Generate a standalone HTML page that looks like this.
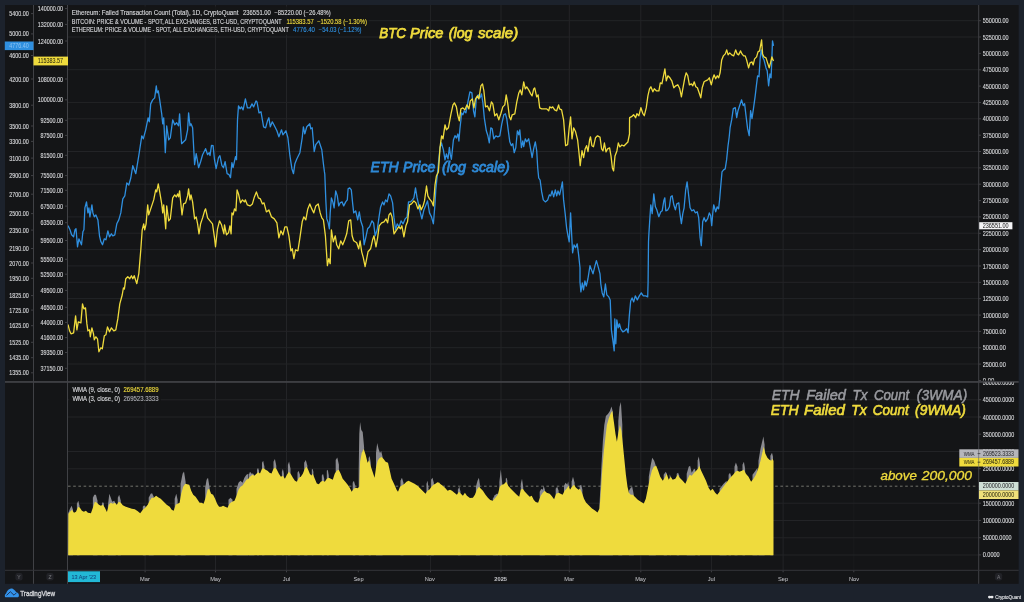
<!DOCTYPE html><html><head><meta charset="utf-8"><title>chart</title><style>html,body{margin:0;padding:0;background:#1c222c;width:1024px;height:602px;overflow:hidden}</style></head><body><svg width="1024" height="602" viewBox="0 0 1024 602" style="position:absolute;left:0;top:0;will-change:transform;font-family:'Liberation Sans',sans-serif">
<rect width="1024" height="602" fill="#1c222c"/>
<rect x="5" y="5" width="1013.7" height="578.8" fill="#141517"/>
<line x1="145.1" y1="5" x2="145.1" y2="570.3" stroke="#232427" stroke-width="1" opacity="1"/>
<line x1="145.1" y1="570.3" x2="145.1" y2="572.3" stroke="#404145" stroke-width="1"/>
<line x1="215.5" y1="5" x2="215.5" y2="570.3" stroke="#232427" stroke-width="1" opacity="1"/>
<line x1="215.5" y1="570.3" x2="215.5" y2="572.3" stroke="#404145" stroke-width="1"/>
<line x1="286.5" y1="5" x2="286.5" y2="570.3" stroke="#232427" stroke-width="1" opacity="1"/>
<line x1="286.5" y1="570.3" x2="286.5" y2="572.3" stroke="#404145" stroke-width="1"/>
<line x1="358.3" y1="5" x2="358.3" y2="570.3" stroke="#232427" stroke-width="1" opacity="0"/>
<line x1="358.3" y1="570.3" x2="358.3" y2="572.3" stroke="#404145" stroke-width="1"/>
<line x1="430.4" y1="5" x2="430.4" y2="570.3" stroke="#232427" stroke-width="1" opacity="1"/>
<line x1="430.4" y1="570.3" x2="430.4" y2="572.3" stroke="#404145" stroke-width="1"/>
<line x1="501" y1="5" x2="501" y2="570.3" stroke="#232427" stroke-width="1" opacity="1"/>
<line x1="501" y1="570.3" x2="501" y2="572.3" stroke="#404145" stroke-width="1"/>
<line x1="569.3" y1="5" x2="569.3" y2="570.3" stroke="#232427" stroke-width="1" opacity="1"/>
<line x1="569.3" y1="570.3" x2="569.3" y2="572.3" stroke="#404145" stroke-width="1"/>
<line x1="640.8" y1="5" x2="640.8" y2="570.3" stroke="#232427" stroke-width="1" opacity="1"/>
<line x1="640.8" y1="570.3" x2="640.8" y2="572.3" stroke="#404145" stroke-width="1"/>
<line x1="711.4" y1="5" x2="711.4" y2="570.3" stroke="#232427" stroke-width="1" opacity="1"/>
<line x1="711.4" y1="570.3" x2="711.4" y2="572.3" stroke="#404145" stroke-width="1"/>
<line x1="783.1" y1="5" x2="783.1" y2="570.3" stroke="#232427" stroke-width="1" opacity="1"/>
<line x1="783.1" y1="570.3" x2="783.1" y2="572.3" stroke="#404145" stroke-width="1"/>
<line x1="853.8" y1="5" x2="853.8" y2="570.3" stroke="#232427" stroke-width="1" opacity="0.35"/>
<line x1="853.8" y1="570.3" x2="853.8" y2="572.3" stroke="#404145" stroke-width="1"/>
<line x1="67.5" y1="364.0" x2="978.7" y2="364.0" stroke="#232427" stroke-width="1"/>
<line x1="67.5" y1="347.7" x2="978.7" y2="347.7" stroke="#232427" stroke-width="1"/>
<line x1="67.5" y1="331.3" x2="978.7" y2="331.3" stroke="#232427" stroke-width="1"/>
<line x1="67.5" y1="315.0" x2="978.7" y2="315.0" stroke="#232427" stroke-width="1"/>
<line x1="67.5" y1="298.6" x2="978.7" y2="298.6" stroke="#232427" stroke-width="1"/>
<line x1="67.5" y1="282.3" x2="978.7" y2="282.3" stroke="#232427" stroke-width="1"/>
<line x1="67.5" y1="265.9" x2="978.7" y2="265.9" stroke="#232427" stroke-width="1"/>
<line x1="67.5" y1="249.6" x2="978.7" y2="249.6" stroke="#232427" stroke-width="1"/>
<line x1="67.5" y1="233.2" x2="978.7" y2="233.2" stroke="#232427" stroke-width="1"/>
<line x1="67.5" y1="216.9" x2="978.7" y2="216.9" stroke="#232427" stroke-width="1"/>
<line x1="67.5" y1="184.2" x2="978.7" y2="184.2" stroke="#232427" stroke-width="1"/>
<line x1="67.5" y1="167.8" x2="978.7" y2="167.8" stroke="#232427" stroke-width="1"/>
<line x1="67.5" y1="151.5" x2="978.7" y2="151.5" stroke="#232427" stroke-width="1"/>
<line x1="67.5" y1="118.8" x2="978.7" y2="118.8" stroke="#232427" stroke-width="1"/>
<line x1="67.5" y1="102.4" x2="978.7" y2="102.4" stroke="#232427" stroke-width="1"/>
<line x1="67.5" y1="69.7" x2="978.7" y2="69.7" stroke="#232427" stroke-width="1"/>
<line x1="67.5" y1="37.0" x2="978.7" y2="37.0" stroke="#232427" stroke-width="1"/>
<line x1="67.5" y1="20.7" x2="978.7" y2="20.7" stroke="#232427" stroke-width="1"/>
<line x1="67.5" y1="537.8" x2="978.7" y2="537.8" stroke="#232427" stroke-width="1"/>
<line x1="67.5" y1="520.5" x2="978.7" y2="520.5" stroke="#232427" stroke-width="1"/>
<line x1="67.5" y1="503.2" x2="978.7" y2="503.2" stroke="#232427" stroke-width="1"/>
<line x1="67.5" y1="468.8" x2="978.7" y2="468.8" stroke="#232427" stroke-width="1"/>
<line x1="67.5" y1="451.5" x2="978.7" y2="451.5" stroke="#232427" stroke-width="1"/>
<line x1="67.5" y1="417.0" x2="978.7" y2="417.0" stroke="#232427" stroke-width="1"/>
<line x1="67.5" y1="399.8" x2="978.7" y2="399.8" stroke="#232427" stroke-width="1"/>
<line x1="67.5" y1="555" x2="978.7" y2="555" stroke="#232427" stroke-width="1"/>
<line x1="68" y1="486.2" x2="978.7" y2="486.2" stroke="#9a9a90" stroke-width="1" stroke-dasharray="2.6 2.6" opacity="0.7"/>
<g clip-path="url(#lp)">
<clipPath id="lp"><rect x="68" y="382.5" width="706" height="173.10000000000002"/></clipPath>
<polygon points="68.4,555.6 68.4,512.7 70.0,508.7 71.6,505.7 73.0,509.7 73.0,555.6" fill="#8b8b90"/>
<polygon points="76.9,555.6 76.9,503.7 78.3,500.7 79.5,505.7 79.5,555.6" fill="#8b8b90"/>
<polygon points="92.9,555.6 92.9,497.7 94.3,494.7 95.9,494.7 97.5,500.7 97.5,555.6" fill="#8b8b90"/>
<polygon points="101.9,555.6 101.9,503.7 102.9,502.1 103.9,503.7 103.9,555.6" fill="#8b8b90"/>
<polygon points="107.9,555.6 107.9,505.7 109.3,493.7 110.8,497.7 112.2,501.7 114.2,500.7 115.8,503.7 115.8,555.6" fill="#8b8b90"/>
<polygon points="117.8,555.6 117.8,497.7 119.2,494.7 120.8,500.7 120.8,555.6" fill="#8b8b90"/>
<polygon points="142.8,555.6 142.8,506.7 144.1,505.3 145.7,506.7 145.7,555.6" fill="#8b8b90"/>
<polygon points="148.7,555.6 148.7,497.7 150.7,493.7 152.1,493.3 153.7,496.7 153.7,555.6" fill="#8b8b90"/>
<polygon points="174.7,555.6 174.7,498.7 176.3,493.7 177.6,499.7 177.6,555.6" fill="#8b8b90"/>
<polygon points="180.6,555.6 180.6,483.8 182.6,473.8 184.0,471.4 185.6,481.8 185.6,555.6" fill="#8b8b90"/>
<polygon points="205.2,555.6 205.2,487.8 206.6,479.8 208.0,477.8 209.6,487.8 209.6,555.6" fill="#8b8b90"/>
<polygon points="228.5,555.6 228.5,499.7 230.5,497.7 232.5,499.7 232.5,555.6" fill="#8b8b90"/>
<polygon points="236.5,555.6 236.5,488.8 238.5,482.8 240.5,480.8 242.5,482.8 244.4,477.8 246.4,474.8 248.4,473.8 248.4,555.6" fill="#8b8b90"/>
<polygon points="249.0,555.6 249.0,474.2 250.0,471.8 251.6,473.8 253.0,473.4 254.4,475.4 254.4,555.6" fill="#8b8b90"/>
<polygon points="257.0,555.6 257.0,469.8 258.0,467.8 259.0,470.8 259.0,555.6" fill="#8b8b90"/>
<polygon points="262.0,555.6 262.0,462.8 263.2,460.8 264.4,466.8 264.4,555.6" fill="#8b8b90"/>
<polygon points="273.5,555.6 273.5,461.8 274.9,458.9 276.3,465.8 276.3,555.6" fill="#8b8b90"/>
<polygon points="281.9,555.6 281.9,471.8 282.9,468.8 283.9,473.8 283.9,555.6" fill="#8b8b90"/>
<polygon points="287.9,555.6 287.9,464.8 289.1,461.4 290.5,468.8 290.5,555.6" fill="#8b8b90"/>
<polygon points="297.5,555.6 297.5,472.8 298.5,470.8 299.9,474.8 299.9,555.6" fill="#8b8b90"/>
<polygon points="304.2,555.6 304.2,462.8 305.8,459.9 307.4,465.8 307.4,555.6" fill="#8b8b90"/>
<polygon points="311.8,555.6 311.8,469.8 312.6,468.8 313.4,471.8 313.4,555.6" fill="#8b8b90"/>
<polygon points="321.8,555.6 321.8,475.8 323.0,473.8 324.2,478.8 324.2,555.6" fill="#8b8b90"/>
<polygon points="326.8,555.6 326.8,470.8 327.8,469.8 328.8,475.8 328.8,555.6" fill="#8b8b90"/>
<polygon points="335.7,555.6 335.7,459.9 337.3,457.5 338.9,464.8 338.9,555.6" fill="#8b8b90"/>
<polygon points="352.7,555.6 352.7,482.8 353.9,480.8 355.3,485.8 355.3,555.6" fill="#8b8b90"/>
<polygon points="358.7,555.6 358.7,469.8 359.3,433.9 360.1,422.0 361.3,429.9 362.7,431.9 364.1,446.9 364.1,555.6" fill="#8b8b90"/>
<polygon points="368.6,555.6 368.6,457.9 369.6,455.9 370.8,462.8 370.8,555.6" fill="#8b8b90"/>
<polygon points="376.0,555.6 376.0,452.9 377.2,442.9 378.6,448.9 380.0,452.9 381.2,450.9 382.6,456.9 382.6,555.6" fill="#8b8b90"/>
<polygon points="400.5,555.6 400.5,480.8 401.9,477.8 403.5,482.8 403.5,555.6" fill="#8b8b90"/>
<polygon points="426.5,555.6 426.5,483.8 427.5,480.8 428.5,488.8 428.5,555.6" fill="#8b8b90"/>
<polygon points="431.1,555.6 431.1,479.8 432.5,477.8 433.8,482.8 433.8,555.6" fill="#8b8b90"/>
<polygon points="457.9,555.6 457.9,489.8 459.3,486.8 460.5,491.8 460.5,555.6" fill="#8b8b90"/>
<polygon points="475.9,555.6 475.9,486.8 477.5,480.8 478.9,477.8 479.9,484.8 479.9,555.6" fill="#8b8b90"/>
<polygon points="492.8,555.6 492.8,498.7 494.8,495.3 496.8,493.7 498.2,493.7 498.2,555.6" fill="#8b8b90"/>
<polygon points="499.4,555.6 499.4,481.8 500.8,469.4 502.2,482.8 502.2,555.6" fill="#8b8b90"/>
<polygon points="505.8,555.6 505.8,478.8 506.6,477.8 507.4,480.8 507.4,555.6" fill="#8b8b90"/>
<polygon points="520.8,555.6 520.8,483.8 522.0,478.8 523.2,486.8 523.2,555.6" fill="#8b8b90"/>
<polygon points="539.7,555.6 539.7,491.8 541.3,488.8 542.7,489.8 543.7,485.8 544.9,489.8 544.9,555.6" fill="#8b8b90"/>
<polygon points="555.7,555.6 555.7,488.8 557.2,486.8 558.6,490.8 558.6,555.6" fill="#8b8b90"/>
<polygon points="564.0,555.6 564.0,485.8 565.6,482.8 567.2,484.8 568.2,481.4 569.2,488.8 569.2,555.6" fill="#8b8b90"/>
<polygon points="571.6,555.6 571.6,481.8 573.0,476.8 574.6,482.8 574.6,555.6" fill="#8b8b90"/>
<polygon points="579.6,555.6 579.6,485.8 581.2,484.8 582.4,489.8 582.4,555.6" fill="#8b8b90"/>
<polygon points="599.5,555.6 599.5,504.6 599.9,496.7 601.5,464.8 602.9,440.8 604.3,424.9 605.9,415.9 607.9,413.9 609.9,410.9 611.5,406.5 612.9,411.9 612.9,555.6" fill="#8b8b90"/>
<polygon points="618.3,555.6 618.3,420.9 619.5,406.9 620.9,401.9 622.3,424.9 622.3,555.6" fill="#8b8b90"/>
<polygon points="628.9,555.6 628.9,490.7 630.8,487.7 632.2,486.7 633.8,494.7 633.8,555.6" fill="#8b8b90"/>
<polygon points="648.8,555.6 648.8,476.7 650.8,464.8 652.2,457.8 654.2,460.8 655.8,465.8 655.8,555.6" fill="#8b8b90"/>
<polygon points="663.7,555.6 663.7,474.7 665.7,471.7 666.9,473.7 666.9,555.6" fill="#8b8b90"/>
<polygon points="669.7,555.6 669.7,474.3 670.7,476.7 670.7,555.6" fill="#8b8b90"/>
<polygon points="676.7,555.6 676.7,473.7 678.1,472.7 679.3,475.7 679.3,555.6" fill="#8b8b90"/>
<polygon points="686.7,555.6 686.7,473.7 688.7,466.8 690.1,465.8 691.7,472.7 694.1,468.7 695.3,469.7 695.3,555.6" fill="#8b8b90"/>
<polygon points="697.6,555.6 697.6,460.8 698.8,456.4 700.0,464.8 700.0,555.6" fill="#8b8b90"/>
<polygon points="719.6,555.6 719.6,488.7 723.6,483.7 726.6,480.7 726.6,555.6" fill="#8b8b90"/>
<polygon points="728.6,555.6 728.6,474.7 730.0,472.7 731.1,475.7 731.1,555.6" fill="#8b8b90"/>
<polygon points="734.5,555.6 734.5,466.8 735.9,462.4 737.5,466.8 737.5,555.6" fill="#8b8b90"/>
<polygon points="742.5,555.6 742.5,464.8 743.9,461.8 745.1,468.7 745.1,555.6" fill="#8b8b90"/>
<polygon points="752.5,555.6 752.5,474.7 755.5,470.7 757.5,467.8 757.5,555.6" fill="#8b8b90"/>
<polygon points="758.5,555.6 758.5,460.8 760.5,448.8 761.9,442.8 763.4,436.4 764.6,444.8 764.6,555.6" fill="#8b8b90"/>
<polygon points="770.4,555.6 770.4,455.8 772.0,452.8 773.0,456.8 773.0,555.6" fill="#8b8b90"/>
<polygon points="68.2,555.6 68.4,513.7 70.0,511.7 72.0,509.7 74.0,512.7 76.0,511.7 78.3,506.7 79.9,507.7 81.9,510.7 83.9,511.7 85.9,510.7 87.9,512.7 90.9,513.3 92.9,507.7 94.9,501.7 96.9,502.7 98.9,504.7 100.9,505.7 102.9,504.7 104.9,507.7 106.9,512.1 108.9,504.7 110.8,502.7 112.8,503.7 114.8,502.7 116.8,504.7 118.8,501.7 120.8,502.7 122.8,505.3 125.8,506.7 128.8,507.7 131.8,508.7 134.8,509.3 137.8,511.3 140.2,513.3 142.8,509.7 145.3,507.7 147.7,504.7 149.7,500.7 151.7,497.7 153.7,497.7 156.1,495.7 158.1,497.3 160.7,498.7 163.7,501.7 166.7,504.7 169.7,506.7 171.7,509.7 173.7,510.7 175.7,504.7 177.6,503.7 179.6,502.7 181.2,493.7 183.2,486.8 185.2,483.8 187.2,484.2 189.2,484.8 191.2,490.8 193.2,494.7 195.6,496.7 197.6,499.7 199.6,502.7 201.6,502.7 203.6,503.7 205.6,497.7 207.6,489.8 209.2,488.8 211.1,493.7 213.1,494.7 215.1,498.7 217.1,503.7 219.1,506.7 221.1,506.7 223.1,505.7 225.1,506.7 227.5,507.7 229.5,503.7 231.5,502.1 234.5,500.7 236.5,495.7 238.5,489.8 240.5,486.8 242.5,485.4 244.4,482.8 246.4,479.8 248.4,478.8 250.0,476.8 252.4,474.8 254.4,475.8 256.4,473.8 258.4,472.2 260.0,473.4 262.0,468.8 263.6,468.2 265.6,469.8 267.5,470.8 269.5,472.8 271.5,473.4 273.5,468.8 275.1,467.4 276.9,469.8 278.9,473.8 280.9,476.8 282.9,475.8 284.9,478.8 286.9,474.8 288.9,471.8 290.9,474.2 292.9,477.8 294.9,480.8 296.9,481.8 298.9,477.8 300.8,476.8 302.8,473.8 304.8,468.8 306.4,466.8 308.2,469.8 309.8,473.8 311.4,475.4 312.8,473.8 314.8,478.8 316.8,483.4 318.8,484.2 320.8,481.8 322.8,480.8 324.8,481.8 326.8,478.8 328.8,477.8 330.8,478.8 332.8,479.8 334.7,473.8 336.7,470.8 338.7,469.8 340.7,473.8 342.7,478.8 345.3,481.8 347.7,484.8 349.7,487.8 351.7,491.8 353.7,488.8 355.7,487.8 357.7,488.2 359.3,486.8 360.1,461.8 361.7,452.9 363.7,448.9 365.7,454.9 367.6,462.8 369.2,459.9 370.6,465.8 372.6,471.8 374.6,477.8 376.0,467.8 377.6,460.8 379.6,457.9 381.6,456.9 383.6,458.9 385.6,461.8 388.0,462.8 389.6,469.8 391.6,478.8 394.0,483.8 396.6,489.8 398.0,491.8 400.0,486.8 401.9,485.4 404.5,483.8 406.5,481.8 408.5,480.8 410.5,481.8 412.5,482.8 414.5,483.8 417.5,485.8 419.5,487.8 421.5,489.8 423.5,491.8 425.5,493.7 427.5,490.8 429.5,489.4 431.5,486.8 433.4,484.8 435.4,483.8 437.4,482.2 439.4,482.8 440.0,483.8 442.4,485.4 445.0,487.8 447.6,490.8 450.0,489.8 452.0,490.8 454.4,492.8 456.9,494.7 458.9,491.8 460.9,493.7 462.9,495.7 464.9,492.8 466.9,495.7 469.9,498.1 472.9,497.7 474.9,494.7 476.9,489.8 478.9,486.8 480.9,488.8 482.9,490.8 485.5,494.7 487.9,497.7 490.2,500.1 492.8,500.7 495.4,497.7 497.8,494.7 499.8,486.8 501.8,484.8 503.8,484.2 506.2,481.8 508.2,485.8 510.8,488.8 513.8,491.8 516.8,494.7 519.2,496.7 520.8,489.8 522.8,488.8 524.7,491.4 527.7,494.7 529.7,496.7 531.7,495.7 533.7,499.7 535.7,502.1 538.1,502.7 540.7,495.7 542.7,492.8 544.7,490.8 546.7,492.8 549.7,493.7 551.7,496.1 554.1,499.3 556.1,493.7 558.6,492.8 560.6,493.7 562.6,494.7 564.6,490.8 566.6,488.8 568.6,485.8 570.0,489.8 572.0,486.8 574.0,484.8 576.0,487.8 578.6,489.8 580.0,488.7 582.0,492.7 584.0,498.7 586.0,502.6 589.0,505.6 592.0,508.6 595.0,510.6 597.5,512.6 599.5,508.6 600.5,496.7 601.3,484.7 602.3,468.7 603.9,450.8 605.5,436.8 606.9,424.9 608.9,417.9 610.9,412.9 612.3,410.9 613.9,421.9 615.5,433.9 616.9,441.8 618.3,432.9 619.9,424.9 621.5,430.9 622.9,444.8 624.3,458.8 625.9,474.7 627.5,486.7 628.9,492.7 630.8,494.7 632.8,494.7 634.8,496.7 637.8,499.7 640.8,501.7 643.8,503.6 645.8,498.7 647.8,488.7 649.8,478.7 651.8,470.7 653.8,466.8 656.2,465.8 658.2,470.7 660.2,476.7 662.8,480.7 664.7,477.7 666.7,473.7 668.7,479.7 670.7,476.7 672.7,479.7 675.3,478.7 677.7,474.7 679.7,477.7 682.7,480.7 685.3,483.7 687.7,478.7 689.7,474.7 691.7,475.7 694.1,472.7 696.1,470.7 698.0,468.7 699.2,465.8 701.2,470.7 703.6,475.7 706.0,480.7 708.6,487.7 710.6,490.7 712.6,488.7 715.2,492.7 717.2,494.7 719.6,491.7 722.6,487.7 725.6,483.7 728.6,479.7 731.1,476.7 733.1,474.7 735.5,471.7 737.5,470.7 739.5,471.7 741.9,470.7 743.9,469.7 745.9,473.7 748.5,476.7 751.1,481.7 753.5,478.7 755.9,474.7 758.5,467.8 760.5,460.8 762.5,451.8 763.8,446.8 765.4,453.8 767.4,457.8 769.4,459.8 771.4,460.8 772.4,458.8 773.4,460.8 773.5,460.8 773.5,555.6" fill="#efdb3d"/>
</g>
<polyline points="68.1,225.5 68.1,225.8 70.0,229.8 71.6,234.8 73.6,236.8 75.0,229.8 76.0,228.8 77.5,246.8 78.9,238.8 81.5,244.8 82.9,231.8 83.9,229.8 84.9,207.9 86.5,201.9 87.9,212.9 88.9,207.9 89.9,216.9 91.9,204.9 92.9,212.9 94.3,216.9 95.9,214.9 97.9,219.9 99.5,235.8 100.9,241.8 102.5,244.8 104.3,238.8 105.9,239.8 107.9,230.8 109.5,236.8 111.4,233.8 112.8,235.8 114.8,234.8 116.8,223.8 118.8,219.9 120.8,212.9 122.8,198.9 124.8,195.9 126.8,183.0 128.8,185.0 130.8,178.0 132.8,165.7 135.8,173.7 138.8,155.7 141.8,135.8 143.3,138.8 145.7,129.8 148.1,117.8 149.3,121.8 150.7,103.9 152.7,99.9 154.7,97.9 156.3,85.9 157.1,92.9 158.3,90.9 159.7,99.9 161.7,113.8 162.7,123.8 163.7,117.8 165.3,152.7 166.7,125.8 168.7,139.8 170.3,137.8 172.7,119.8 174.7,124.8 176.7,122.8 178.6,125.8 179.6,113.8 181.6,143.7 185.6,139.8 187.6,129.8 188.6,112.8 190.0,125.8 191.0,123.8 192.6,127.8 194.6,164.7 196.2,153.7 198.6,167.7 200.6,161.7 202.6,154.7 205.6,148.7 207.6,154.7 209.2,152.7 210.0,155.7 211.5,145.3 213.1,145.7 214.5,159.7 216.1,168.7 218.5,157.7 219.9,155.7 221.9,165.7 223.5,167.7 225.1,161.7 227.1,173.7 229.1,174.7 230.5,177.6 231.9,162.7 233.1,167.7 235.5,156.7 236.5,159.7 237.5,119.8 238.5,105.9 240.1,108.9 241.5,106.9 243.1,109.9 245.4,98.9 247.4,107.9 250.0,107.9 252.0,103.9 253.6,106.9 256.0,100.9 257.0,101.9 259.0,112.8 261.0,111.8 263.6,126.8 265.6,127.8 267.5,120.8 268.9,117.8 270.3,126.8 272.3,121.8 274.9,126.8 276.9,130.8 278.9,136.8 281.5,129.8 282.9,134.8 285.9,130.8 287.9,137.8 289.9,155.7 291.9,168.7 293.5,173.7 294.9,163.7 296.9,158.7 299.9,152.7 302.2,137.8 303.4,126.8 304.8,133.8 306.8,126.8 309.8,123.8 310.8,128.8 312.2,127.8 314.2,151.7 315.8,144.7 318.8,140.8 321.8,149.7 323.4,163.7 324.4,171.7 324.8,174.0 325.8,199.9 326.8,218.9 328.2,222.8 329.4,228.8 330.2,212.9 331.4,197.9 332.8,201.9 334.1,207.9 335.7,190.9 337.3,195.9 338.7,205.9 340.1,202.9 342.1,201.9 343.7,205.9 345.7,201.9 347.3,199.9 348.1,188.9 349.7,187.9 351.3,189.9 352.7,203.9 353.7,212.9 355.7,210.9 357.7,219.9 359.3,211.9 360.7,220.8 362.7,226.8 364.1,244.8 365.7,237.8 367.6,228.8 369.6,226.8 372.0,220.8 373.6,222.8 375.2,235.8 377.2,229.8 379.2,215.9 380.6,206.9 382.6,201.9 384.0,204.9 385.6,199.9 387.2,201.9 389.0,193.9 390.6,195.9 392.6,202.9 394.0,217.9 395.6,229.8 397.2,223.8 399.2,226.8 401.1,220.8 403.1,223.8 405.1,218.9 407.1,216.9 408.5,201.9 410.5,201.9 412.5,199.9 413.9,197.9 415.5,187.9 417.1,197.9 418.5,203.9 419.9,210.9 421.9,218.9 423.9,209.9 425.9,204.9 427.5,200.9 429.5,212.9 431.5,216.9 433.4,223.8 435.0,203.9 435.8,189.9 437.0,178.0 440.0,147.7 441.4,142.8 443.4,149.9 445.0,159.9 446.4,153.9 448.0,158.9 449.4,147.3 450.4,154.9 451.4,159.3 452.4,149.9 453.4,140.0 455.0,135.6 456.4,138.0 457.9,134.0 458.9,141.0 459.9,129.0 460.9,120.0 461.5,112.8 462.9,114.8 464.3,110.8 465.9,112.8 467.9,101.9 469.9,91.9 471.9,92.9 473.5,110.8 474.9,116.8 476.3,98.9 478.3,94.9 479.9,97.9 481.5,93.9 482.9,102.9 484.3,117.8 486.3,130.8 487.9,135.8 489.3,142.8 490.8,127.8 492.2,128.8 493.8,138.8 495.8,135.8 497.8,136.8 499.8,135.8 501.8,123.8 503.8,114.8 505.4,113.8 506.8,118.8 508.2,129.8 509.8,141.8 511.4,145.7 512.8,143.7 514.2,152.7 515.8,147.7 517.4,130.8 518.8,134.8 519.8,129.8 521.4,147.7 522.8,140.8 523.7,146.7 525.3,138.8 526.7,141.8 528.7,138.8 530.7,149.7 532.1,157.7 533.7,148.7 535.3,141.8 536.7,150.7 537.7,167.7 538.7,178.0 540.1,180.0 541.7,191.9 543.3,199.9 545.3,201.9 547.7,199.9 549.3,194.9 550.7,195.9 552.1,190.9 553.7,196.9 555.3,189.9 556.7,195.9 558.0,190.9 559.6,194.9 561.2,187.9 562.4,182.0 563.6,199.9 565.2,213.9 566.6,227.8 568.0,235.8 569.2,241.8 570.6,212.9 571.6,233.8 572.6,252.8 574.0,244.8 575.6,247.8 577.2,243.8 578.6,254.7 580.0,267.7 580.0,282.0 580.9,291.9 582.3,283.0 583.5,289.9 584.9,281.0 586.3,286.0 587.9,279.0 590.0,265.6 591.4,269.6 593.0,273.8 595.0,265.6 596.4,260.6 598.4,267.6 600.0,273.8 600.8,284.0 602.2,292.9 603.8,296.9 605.4,284.0 606.8,294.9 608.8,296.9 610.2,299.9 611.4,329.8 612.8,339.8 614.2,350.8 614.8,318.9 615.8,343.8 616.8,319.9 618.2,327.8 619.4,323.8 620.8,328.8 622.8,331.8 624.7,330.8 626.7,328.8 628.1,332.8 629.3,315.9 630.7,300.9 632.1,297.9 633.7,301.9 635.3,295.9 637.3,299.9 639.3,295.9 641.3,292.9 643.3,295.9 645.7,295.9 647.7,296.9 648.1,282.0 648.5,241.7 648.9,233.7 649.9,217.7 650.8,204.8 652.2,213.7 653.8,193.8 655.4,206.8 656.8,209.8 658.8,216.7 660.8,211.8 662.2,210.8 663.8,200.8 664.8,197.8 665.8,210.8 667.8,209.8 669.4,206.8 670.8,196.8 672.2,195.8 673.8,204.8 675.4,209.8 676.8,203.8 678.8,202.8 679.8,212.8 681.4,223.7 682.8,213.7 684.1,207.8 685.7,189.8 687.1,181.8 688.7,195.8 690.1,207.8 691.7,210.8 693.7,209.8 695.3,212.8 697.3,211.8 698.7,217.7 700.1,237.7 701.3,245.7 702.7,221.7 704.1,217.7 705.7,221.7 707.7,218.7 709.3,212.8 710.7,215.7 711.7,225.7 712.7,213.7 713.7,204.8 715.7,211.8 717.2,206.8 718.6,208.8 719.6,199.8 720.6,187.8 722.0,171.9 723.6,169.9 725.2,168.9 726.6,159.9 728.0,146.0 729.2,137.0 730.1,127.7 731.7,119.7 733.3,108.7 735.3,107.7 736.7,117.7 738.0,110.7 739.6,105.7 741.6,99.8 743.2,105.7 744.6,103.7 746.0,115.7 747.6,128.7 749.2,135.7 750.6,110.7 752.0,118.7 753.6,107.7 755.2,95.8 756.6,83.8 757.6,75.8 759.0,76.8 760.2,57.9 761.2,49.9 762.6,56.9 764.0,59.9 766.0,67.9 767.2,70.8 768.6,85.8 770.0,73.8 771.1,77.8 771.9,57.9 772.5,40.9 773.5,45.9" fill="none" stroke="#2f8fdf" stroke-width="1.3" stroke-linejoin="round"/>
<polyline points="68.1,326.8 68.1,324.9 69.6,330.8 71.0,333.8 73.6,332.8 75.6,315.9 76.9,329.9 78.3,321.9 80.9,322.9 82.5,303.9 83.9,308.9 85.5,307.9 86.9,323.9 87.9,330.8 89.5,329.9 90.3,336.8 91.9,327.9 93.5,333.8 94.3,339.8 95.9,336.8 97.5,338.8 98.9,351.8 100.9,347.8 102.3,348.8 104.3,335.8 105.9,334.8 107.5,326.9 109.5,331.8 111.4,327.9 113.8,330.8 115.8,329.9 117.8,318.9 119.8,303.9 122.2,295.0 123.4,288.0 124.4,289.0 125.8,278.7 127.8,276.7 129.8,278.7 131.4,275.7 132.8,278.7 134.2,275.7 136.8,283.7 138.8,273.7 140.8,249.8 142.2,229.8 143.7,223.8 144.7,229.8 146.1,223.8 147.7,204.9 148.7,214.9 150.7,208.9 153.7,199.9 155.7,189.9 156.7,191.9 158.3,184.0 159.7,191.9 161.7,203.9 162.7,212.9 163.7,204.9 165.7,228.8 166.7,205.9 168.7,220.8 170.3,218.9 172.7,197.9 174.7,194.9 176.3,196.9 177.6,193.9 178.6,196.9 179.6,190.9 182.0,214.9 183.6,203.9 185.6,202.9 187.6,195.9 188.6,188.9 190.0,199.9 191.0,194.9 192.6,201.9 194.6,218.9 196.2,216.9 197.6,223.8 199.0,233.8 200.6,223.8 202.6,217.9 204.6,210.9 205.6,208.9 207.6,217.9 210.0,220.8 212.5,223.8 214.5,237.8 215.5,246.8 217.5,228.8 219.5,220.8 221.5,224.8 223.9,233.8 224.5,224.8 226.5,234.8 228.5,232.8 229.9,225.8 231.1,233.8 231.9,212.9 233.1,214.9 234.5,208.9 235.9,210.9 237.1,189.9 238.5,193.9 240.5,202.9 242.5,199.9 244.4,201.9 245.4,199.9 247.4,204.9 250.0,205.9 252.4,203.9 254.4,196.9 256.4,191.9 258.4,197.9 260.4,198.9 262.4,203.9 264.0,202.9 266.4,211.9 268.9,209.9 271.5,216.9 274.3,218.9 276.9,222.8 278.9,237.8 280.9,230.8 282.9,234.8 284.9,226.8 286.9,226.8 288.9,235.8 290.9,250.8 292.3,248.8 293.9,258.7 295.5,249.8 297.9,250.8 299.9,237.8 302.2,221.8 303.8,216.9 305.8,219.9 307.8,208.9 309.8,203.9 311.8,208.9 313.8,212.9 315.8,205.9 318.2,203.9 320.2,212.9 321.8,217.9 323.4,219.9 325.4,235.8 327.4,265.7 328.8,258.7 330.2,263.7 331.4,229.8 333.3,241.8 335.3,235.8 336.7,244.8 338.7,248.8 340.7,240.8 342.7,244.8 344.7,239.8 346.7,233.8 348.7,220.8 350.7,219.9 352.1,235.8 353.7,240.8 356.7,242.8 358.7,248.8 360.1,240.8 361.7,251.8 363.3,257.7 365.1,266.7 366.7,258.7 368.0,251.8 370.6,248.8 372.6,239.8 374.0,235.8 376.0,246.8 377.6,237.8 379.2,225.8 381.6,222.8 384.0,221.8 386.0,218.9 387.6,222.8 389.0,214.9 390.6,212.9 392.0,216.9 394.0,233.8 396.6,229.8 398.6,226.8 400.5,228.8 401.9,225.8 403.9,236.8 405.9,225.8 407.5,221.8 409.5,204.9 411.5,203.9 413.9,200.9 415.9,202.9 417.9,208.9 419.9,204.9 421.1,209.9 423.1,205.9 424.5,200.9 426.5,186.0 427.9,195.9 429.5,198.9 431.9,201.9 433.4,205.9 435.0,185.0 436.4,176.0 438.4,172.0 440.0,147.7 441.6,135.8 443.0,138.8 445.0,124.8 446.4,129.8 448.4,127.8 451.0,113.8 453.0,104.9 454.4,102.9 456.4,106.9 457.9,115.8 459.3,120.8 460.9,108.9 462.9,107.9 464.9,109.9 466.9,104.9 468.9,108.9 470.3,100.9 472.3,98.9 473.9,107.9 475.5,98.9 477.5,95.9 478.9,98.9 480.9,85.9 482.5,83.9 483.9,90.9 485.5,106.9 487.5,105.9 489.5,110.8 491.4,101.9 492.8,103.9 494.8,115.8 496.8,113.8 498.8,119.8 500.8,113.8 502.8,106.9 504.8,104.9 506.2,94.9 507.8,103.9 509.4,116.8 510.8,119.8 512.2,114.8 514.8,113.8 516.8,101.9 518.8,92.9 520.2,89.9 521.8,94.9 523.7,81.9 525.3,88.9 526.7,86.9 528.7,89.9 530.7,93.9 532.1,95.9 533.7,88.9 534.7,87.9 536.7,96.9 538.1,94.9 539.7,107.9 541.7,108.9 543.7,108.9 546.7,108.9 548.7,110.8 549.7,106.9 551.3,107.9 552.7,106.9 554.7,109.9 556.7,110.8 558.6,104.9 559.6,108.9 561.6,109.9 563.6,119.8 565.6,145.7 567.6,144.7 569.2,127.8 570.6,116.8 572.0,138.8 573.6,127.8 575.6,131.8 577.6,139.8 579.0,152.7 580.2,165.7 582.0,150.7 583.6,157.7 585.2,148.7 586.6,145.7 588.0,151.7 589.6,139.8 590.5,136.8 591.9,145.7 593.5,146.7 595.5,137.8 597.5,135.8 599.5,136.8 600.0,137.0 601.6,148.9 603.0,150.9 604.4,143.0 606.0,151.9 607.6,148.9 609.6,147.9 611.0,155.9 612.4,167.9 613.6,170.9 615.0,155.9 616.9,150.9 618.3,143.0 619.9,146.9 621.9,145.0 623.9,146.0 625.9,144.0 627.9,142.0 629.5,134.0 629.5,127.7 629.6,117.7 631.6,116.7 633.6,114.7 635.6,117.7 636.9,113.7 638.9,115.7 640.9,107.7 642.9,113.7 644.3,115.7 646.3,107.7 647.9,95.8 649.5,88.8 650.9,86.8 652.9,91.8 654.3,88.8 656.3,90.8 658.9,90.8 660.3,82.8 661.9,83.8 663.5,75.8 664.9,68.9 666.3,80.8 667.9,75.8 669.9,77.8 671.8,80.8 673.8,87.8 675.8,85.8 677.8,84.8 679.8,88.8 681.4,96.8 682.8,88.8 684.8,77.8 686.2,72.8 687.8,75.8 689.4,84.8 691.4,83.8 692.8,85.8 694.2,81.8 695.8,86.8 697.4,87.8 698.8,91.8 700.8,97.8 702.2,87.8 704.1,81.8 705.7,80.8 707.7,79.8 709.3,77.8 711.3,84.8 712.7,78.8 714.1,74.8 715.7,78.8 717.3,75.8 718.7,77.8 720.1,72.8 721.7,59.9 723.3,55.9 725.3,53.9 726.7,49.9 728.1,54.9 729.7,52.9 731.7,54.9 733.7,55.9 735.7,49.9 737.2,53.9 738.6,54.9 740.6,50.9 742.0,53.9 743.6,55.9 745.2,55.9 746.6,59.9 748.6,67.9 750.0,62.9 752.0,61.9 753.2,64.9 754.6,58.9 756.6,56.9 758.0,51.9 759.6,50.9 761.6,39.9 762.6,53.9 764.0,56.9 766.0,57.9 767.6,62.9 769.2,67.9 770.5,62.9 771.9,56.9 773.5,60.9" fill="none" stroke="#efdb3d" stroke-width="1.3" stroke-linejoin="round"/>
<line x1="33.5" y1="5" x2="33.5" y2="583.8" stroke="#404145"/>
<line x1="67.5" y1="5" x2="67.5" y2="583.8" stroke="#404145"/>
<line x1="978.7" y1="5" x2="978.7" y2="583.8" stroke="#404145"/>
<rect x="5" y="381.1" width="1013.7" height="1.7" fill="#424347"/>
<line x1="5" y1="570.3" x2="1018.7" y2="570.3" stroke="#34353a"/>
<text x="9.3" y="16.1" font-size="6.6" fill="#d6d7da" text-anchor="start" font-weight="normal" font-style="normal" textLength="19.4" lengthAdjust="spacingAndGlyphs" stroke="#d6d7da" stroke-width="0.13" >5400.00</text>
<line x1="31" y1="13.6" x2="33.5" y2="13.6" stroke="#404145"/>
<text x="9.3" y="36.4" font-size="6.6" fill="#d6d7da" text-anchor="start" font-weight="normal" font-style="normal" textLength="19.4" lengthAdjust="spacingAndGlyphs" stroke="#d6d7da" stroke-width="0.13" >5000.00</text>
<line x1="31" y1="33.9" x2="33.5" y2="33.9" stroke="#404145"/>
<text x="9.3" y="58.0" font-size="6.6" fill="#d6d7da" text-anchor="start" font-weight="normal" font-style="normal" textLength="19.4" lengthAdjust="spacingAndGlyphs" stroke="#d6d7da" stroke-width="0.13" >4600.00</text>
<line x1="31" y1="55.5" x2="33.5" y2="55.5" stroke="#404145"/>
<text x="9.3" y="81.5" font-size="6.6" fill="#d6d7da" text-anchor="start" font-weight="normal" font-style="normal" textLength="19.4" lengthAdjust="spacingAndGlyphs" stroke="#d6d7da" stroke-width="0.13" >4200.00</text>
<line x1="31" y1="79" x2="33.5" y2="79" stroke="#404145"/>
<text x="9.3" y="107.7" font-size="6.6" fill="#d6d7da" text-anchor="start" font-weight="normal" font-style="normal" textLength="19.4" lengthAdjust="spacingAndGlyphs" stroke="#d6d7da" stroke-width="0.13" >3800.00</text>
<line x1="31" y1="105.2" x2="33.5" y2="105.2" stroke="#404145"/>
<text x="9.3" y="128.5" font-size="6.6" fill="#d6d7da" text-anchor="start" font-weight="normal" font-style="normal" textLength="19.4" lengthAdjust="spacingAndGlyphs" stroke="#d6d7da" stroke-width="0.13" >3500.00</text>
<line x1="31" y1="126" x2="33.5" y2="126" stroke="#404145"/>
<text x="9.3" y="143.9" font-size="6.6" fill="#d6d7da" text-anchor="start" font-weight="normal" font-style="normal" textLength="19.4" lengthAdjust="spacingAndGlyphs" stroke="#d6d7da" stroke-width="0.13" >3300.00</text>
<line x1="31" y1="141.4" x2="33.5" y2="141.4" stroke="#404145"/>
<text x="9.3" y="160.6" font-size="6.6" fill="#d6d7da" text-anchor="start" font-weight="normal" font-style="normal" textLength="19.4" lengthAdjust="spacingAndGlyphs" stroke="#d6d7da" stroke-width="0.13" >3100.00</text>
<line x1="31" y1="158.1" x2="33.5" y2="158.1" stroke="#404145"/>
<text x="9.3" y="178.1" font-size="6.6" fill="#d6d7da" text-anchor="start" font-weight="normal" font-style="normal" textLength="19.4" lengthAdjust="spacingAndGlyphs" stroke="#d6d7da" stroke-width="0.13" >2900.00</text>
<line x1="31" y1="175.6" x2="33.5" y2="175.6" stroke="#404145"/>
<text x="9.3" y="196.7" font-size="6.6" fill="#d6d7da" text-anchor="start" font-weight="normal" font-style="normal" textLength="19.4" lengthAdjust="spacingAndGlyphs" stroke="#d6d7da" stroke-width="0.13" >2700.00</text>
<line x1="31" y1="194.2" x2="33.5" y2="194.2" stroke="#404145"/>
<text x="9.3" y="216.1" font-size="6.6" fill="#d6d7da" text-anchor="start" font-weight="normal" font-style="normal" textLength="19.4" lengthAdjust="spacingAndGlyphs" stroke="#d6d7da" stroke-width="0.13" >2500.00</text>
<line x1="31" y1="213.6" x2="33.5" y2="213.6" stroke="#404145"/>
<text x="9.3" y="232.6" font-size="6.6" fill="#d6d7da" text-anchor="start" font-weight="normal" font-style="normal" textLength="19.4" lengthAdjust="spacingAndGlyphs" stroke="#d6d7da" stroke-width="0.13" >2350.00</text>
<line x1="31" y1="230.1" x2="33.5" y2="230.1" stroke="#404145"/>
<text x="9.3" y="251.0" font-size="6.6" fill="#d6d7da" text-anchor="start" font-weight="normal" font-style="normal" textLength="19.4" lengthAdjust="spacingAndGlyphs" stroke="#d6d7da" stroke-width="0.13" >2190.00</text>
<line x1="31" y1="248.5" x2="33.5" y2="248.5" stroke="#404145"/>
<text x="9.3" y="265.5" font-size="6.6" fill="#d6d7da" text-anchor="start" font-weight="normal" font-style="normal" textLength="19.4" lengthAdjust="spacingAndGlyphs" stroke="#d6d7da" stroke-width="0.13" >2070.00</text>
<line x1="31" y1="263" x2="33.5" y2="263" stroke="#404145"/>
<text x="9.3" y="280.8" font-size="6.6" fill="#d6d7da" text-anchor="start" font-weight="normal" font-style="normal" textLength="19.4" lengthAdjust="spacingAndGlyphs" stroke="#d6d7da" stroke-width="0.13" >1950.00</text>
<line x1="31" y1="278.3" x2="33.5" y2="278.3" stroke="#404145"/>
<text x="9.3" y="298.1" font-size="6.6" fill="#d6d7da" text-anchor="start" font-weight="normal" font-style="normal" textLength="19.4" lengthAdjust="spacingAndGlyphs" stroke="#d6d7da" stroke-width="0.13" >1825.00</text>
<line x1="31" y1="295.6" x2="33.5" y2="295.6" stroke="#404145"/>
<text x="9.3" y="312.6" font-size="6.6" fill="#d6d7da" text-anchor="start" font-weight="normal" font-style="normal" textLength="19.4" lengthAdjust="spacingAndGlyphs" stroke="#d6d7da" stroke-width="0.13" >1725.00</text>
<line x1="31" y1="310.1" x2="33.5" y2="310.1" stroke="#404145"/>
<text x="9.3" y="328.2" font-size="6.6" fill="#d6d7da" text-anchor="start" font-weight="normal" font-style="normal" textLength="19.4" lengthAdjust="spacingAndGlyphs" stroke="#d6d7da" stroke-width="0.13" >1625.00</text>
<line x1="31" y1="325.7" x2="33.5" y2="325.7" stroke="#404145"/>
<text x="9.3" y="344.8" font-size="6.6" fill="#d6d7da" text-anchor="start" font-weight="normal" font-style="normal" textLength="19.4" lengthAdjust="spacingAndGlyphs" stroke="#d6d7da" stroke-width="0.13" >1525.00</text>
<line x1="31" y1="342.3" x2="33.5" y2="342.3" stroke="#404145"/>
<text x="9.3" y="360.2" font-size="6.6" fill="#d6d7da" text-anchor="start" font-weight="normal" font-style="normal" textLength="19.4" lengthAdjust="spacingAndGlyphs" stroke="#d6d7da" stroke-width="0.13" >1435.00</text>
<line x1="31" y1="357.7" x2="33.5" y2="357.7" stroke="#404145"/>
<text x="9.3" y="375.3" font-size="6.6" fill="#d6d7da" text-anchor="start" font-weight="normal" font-style="normal" textLength="19.4" lengthAdjust="spacingAndGlyphs" stroke="#d6d7da" stroke-width="0.13" >1355.00</text>
<line x1="31" y1="372.8" x2="33.5" y2="372.8" stroke="#404145"/>
<text x="37.8" y="11.1" font-size="6.6" fill="#d6d7da" text-anchor="start" font-weight="normal" font-style="normal" textLength="25.3" lengthAdjust="spacingAndGlyphs" stroke="#d6d7da" stroke-width="0.13" >140000.00</text>
<line x1="65" y1="8.6" x2="67.5" y2="8.6" stroke="#404145"/>
<text x="37.8" y="26.9" font-size="6.6" fill="#d6d7da" text-anchor="start" font-weight="normal" font-style="normal" textLength="25.3" lengthAdjust="spacingAndGlyphs" stroke="#d6d7da" stroke-width="0.13" >132000.00</text>
<line x1="65" y1="24.4" x2="67.5" y2="24.4" stroke="#404145"/>
<text x="37.8" y="43.5" font-size="6.6" fill="#d6d7da" text-anchor="start" font-weight="normal" font-style="normal" textLength="25.3" lengthAdjust="spacingAndGlyphs" stroke="#d6d7da" stroke-width="0.13" >124000.00</text>
<line x1="65" y1="41" x2="67.5" y2="41" stroke="#404145"/>
<text x="37.8" y="81.5" font-size="6.6" fill="#d6d7da" text-anchor="start" font-weight="normal" font-style="normal" textLength="25.3" lengthAdjust="spacingAndGlyphs" stroke="#d6d7da" stroke-width="0.13" >108000.00</text>
<line x1="65" y1="79" x2="67.5" y2="79" stroke="#404145"/>
<text x="37.8" y="102.3" font-size="6.6" fill="#d6d7da" text-anchor="start" font-weight="normal" font-style="normal" textLength="25.3" lengthAdjust="spacingAndGlyphs" stroke="#d6d7da" stroke-width="0.13" >100000.00</text>
<line x1="65" y1="99.8" x2="67.5" y2="99.8" stroke="#404145"/>
<text x="40.5" y="122.8" font-size="6.6" fill="#d6d7da" text-anchor="start" font-weight="normal" font-style="normal" textLength="22.6" lengthAdjust="spacingAndGlyphs" stroke="#d6d7da" stroke-width="0.13" >92500.00</text>
<line x1="65" y1="120.3" x2="67.5" y2="120.3" stroke="#404145"/>
<text x="40.5" y="137.9" font-size="6.6" fill="#d6d7da" text-anchor="start" font-weight="normal" font-style="normal" textLength="22.6" lengthAdjust="spacingAndGlyphs" stroke="#d6d7da" stroke-width="0.13" >87500.00</text>
<line x1="65" y1="135.4" x2="67.5" y2="135.4" stroke="#404145"/>
<text x="40.5" y="157.8" font-size="6.6" fill="#d6d7da" text-anchor="start" font-weight="normal" font-style="normal" textLength="22.6" lengthAdjust="spacingAndGlyphs" stroke="#d6d7da" stroke-width="0.13" >81500.00</text>
<line x1="65" y1="155.3" x2="67.5" y2="155.3" stroke="#404145"/>
<text x="40.5" y="178.1" font-size="6.6" fill="#d6d7da" text-anchor="start" font-weight="normal" font-style="normal" textLength="22.6" lengthAdjust="spacingAndGlyphs" stroke="#d6d7da" stroke-width="0.13" >75500.00</text>
<line x1="65" y1="175.6" x2="67.5" y2="175.6" stroke="#404145"/>
<text x="40.5" y="192.8" font-size="6.6" fill="#d6d7da" text-anchor="start" font-weight="normal" font-style="normal" textLength="22.6" lengthAdjust="spacingAndGlyphs" stroke="#d6d7da" stroke-width="0.13" >71500.00</text>
<line x1="65" y1="190.3" x2="67.5" y2="190.3" stroke="#404145"/>
<text x="40.5" y="208.6" font-size="6.6" fill="#d6d7da" text-anchor="start" font-weight="normal" font-style="normal" textLength="22.6" lengthAdjust="spacingAndGlyphs" stroke="#d6d7da" stroke-width="0.13" >67500.00</text>
<line x1="65" y1="206.1" x2="67.5" y2="206.1" stroke="#404145"/>
<text x="40.5" y="225.2" font-size="6.6" fill="#d6d7da" text-anchor="start" font-weight="normal" font-style="normal" textLength="22.6" lengthAdjust="spacingAndGlyphs" stroke="#d6d7da" stroke-width="0.13" >63500.00</text>
<line x1="65" y1="222.7" x2="67.5" y2="222.7" stroke="#404145"/>
<text x="40.5" y="243.0" font-size="6.6" fill="#d6d7da" text-anchor="start" font-weight="normal" font-style="normal" textLength="22.6" lengthAdjust="spacingAndGlyphs" stroke="#d6d7da" stroke-width="0.13" >59500.00</text>
<line x1="65" y1="240.5" x2="67.5" y2="240.5" stroke="#404145"/>
<text x="40.5" y="261.8" font-size="6.6" fill="#d6d7da" text-anchor="start" font-weight="normal" font-style="normal" textLength="22.6" lengthAdjust="spacingAndGlyphs" stroke="#d6d7da" stroke-width="0.13" >55500.00</text>
<line x1="65" y1="259.3" x2="67.5" y2="259.3" stroke="#404145"/>
<text x="40.5" y="276.7" font-size="6.6" fill="#d6d7da" text-anchor="start" font-weight="normal" font-style="normal" textLength="22.6" lengthAdjust="spacingAndGlyphs" stroke="#d6d7da" stroke-width="0.13" >52500.00</text>
<line x1="65" y1="274.2" x2="67.5" y2="274.2" stroke="#404145"/>
<text x="40.5" y="292.9" font-size="6.6" fill="#d6d7da" text-anchor="start" font-weight="normal" font-style="normal" textLength="22.6" lengthAdjust="spacingAndGlyphs" stroke="#d6d7da" stroke-width="0.13" >49500.00</text>
<line x1="65" y1="290.4" x2="67.5" y2="290.4" stroke="#404145"/>
<text x="40.5" y="309.8" font-size="6.6" fill="#d6d7da" text-anchor="start" font-weight="normal" font-style="normal" textLength="22.6" lengthAdjust="spacingAndGlyphs" stroke="#d6d7da" stroke-width="0.13" >46500.00</text>
<line x1="65" y1="307.3" x2="67.5" y2="307.3" stroke="#404145"/>
<text x="40.5" y="324.9" font-size="6.6" fill="#d6d7da" text-anchor="start" font-weight="normal" font-style="normal" textLength="22.6" lengthAdjust="spacingAndGlyphs" stroke="#d6d7da" stroke-width="0.13" >44000.00</text>
<line x1="65" y1="322.4" x2="67.5" y2="322.4" stroke="#404145"/>
<text x="40.5" y="340.1" font-size="6.6" fill="#d6d7da" text-anchor="start" font-weight="normal" font-style="normal" textLength="22.6" lengthAdjust="spacingAndGlyphs" stroke="#d6d7da" stroke-width="0.13" >41600.00</text>
<line x1="65" y1="337.6" x2="67.5" y2="337.6" stroke="#404145"/>
<text x="40.5" y="355.0" font-size="6.6" fill="#d6d7da" text-anchor="start" font-weight="normal" font-style="normal" textLength="22.6" lengthAdjust="spacingAndGlyphs" stroke="#d6d7da" stroke-width="0.13" >39350.00</text>
<line x1="65" y1="352.5" x2="67.5" y2="352.5" stroke="#404145"/>
<text x="40.5" y="370.8" font-size="6.6" fill="#d6d7da" text-anchor="start" font-weight="normal" font-style="normal" textLength="22.6" lengthAdjust="spacingAndGlyphs" stroke="#d6d7da" stroke-width="0.13" >37150.00</text>
<line x1="65" y1="368.3" x2="67.5" y2="368.3" stroke="#404145"/>
<clipPath id="c0"><rect x="979" y="370" width="40" height="10.5"/></clipPath>
<text x="982.7" y="383.0" font-size="6.6" fill="#d6d7da" text-anchor="start" font-weight="normal" font-style="normal" textLength="11.6" lengthAdjust="spacingAndGlyphs" stroke="#d6d7da" stroke-width="0.13" clip-path="url(#c0)">0.00</text>
<line x1="978.7" y1="380.5" x2="981" y2="380.5" stroke="#404145"/>
<text x="982.7" y="366.6" font-size="6.6" fill="#d6d7da" text-anchor="start" font-weight="normal" font-style="normal" textLength="23.1" lengthAdjust="spacingAndGlyphs" stroke="#d6d7da" stroke-width="0.13" >25000.00</text>
<line x1="978.7" y1="364.1" x2="981" y2="364.1" stroke="#404145"/>
<text x="982.7" y="350.3" font-size="6.6" fill="#d6d7da" text-anchor="start" font-weight="normal" font-style="normal" textLength="23.1" lengthAdjust="spacingAndGlyphs" stroke="#d6d7da" stroke-width="0.13" >50000.00</text>
<line x1="978.7" y1="347.8" x2="981" y2="347.8" stroke="#404145"/>
<text x="982.7" y="333.9" font-size="6.6" fill="#d6d7da" text-anchor="start" font-weight="normal" font-style="normal" textLength="23.1" lengthAdjust="spacingAndGlyphs" stroke="#d6d7da" stroke-width="0.13" >75000.00</text>
<line x1="978.7" y1="331.4" x2="981" y2="331.4" stroke="#404145"/>
<text x="982.7" y="317.6" font-size="6.6" fill="#d6d7da" text-anchor="start" font-weight="normal" font-style="normal" textLength="25.9" lengthAdjust="spacingAndGlyphs" stroke="#d6d7da" stroke-width="0.13" >100000.00</text>
<line x1="978.7" y1="315.1" x2="981" y2="315.1" stroke="#404145"/>
<text x="982.7" y="301.2" font-size="6.6" fill="#d6d7da" text-anchor="start" font-weight="normal" font-style="normal" textLength="25.9" lengthAdjust="spacingAndGlyphs" stroke="#d6d7da" stroke-width="0.13" >125000.00</text>
<line x1="978.7" y1="298.7" x2="981" y2="298.7" stroke="#404145"/>
<text x="982.7" y="284.9" font-size="6.6" fill="#d6d7da" text-anchor="start" font-weight="normal" font-style="normal" textLength="25.9" lengthAdjust="spacingAndGlyphs" stroke="#d6d7da" stroke-width="0.13" >150000.00</text>
<line x1="978.7" y1="282.4" x2="981" y2="282.4" stroke="#404145"/>
<text x="982.7" y="268.5" font-size="6.6" fill="#d6d7da" text-anchor="start" font-weight="normal" font-style="normal" textLength="25.9" lengthAdjust="spacingAndGlyphs" stroke="#d6d7da" stroke-width="0.13" >175000.00</text>
<line x1="978.7" y1="266.0" x2="981" y2="266.0" stroke="#404145"/>
<text x="982.7" y="252.2" font-size="6.6" fill="#d6d7da" text-anchor="start" font-weight="normal" font-style="normal" textLength="25.9" lengthAdjust="spacingAndGlyphs" stroke="#d6d7da" stroke-width="0.13" >200000.00</text>
<line x1="978.7" y1="249.7" x2="981" y2="249.7" stroke="#404145"/>
<text x="982.7" y="235.8" font-size="6.6" fill="#d6d7da" text-anchor="start" font-weight="normal" font-style="normal" textLength="25.9" lengthAdjust="spacingAndGlyphs" stroke="#d6d7da" stroke-width="0.13" >225000.00</text>
<line x1="978.7" y1="233.3" x2="981" y2="233.3" stroke="#404145"/>
<text x="982.7" y="219.4" font-size="6.6" fill="#d6d7da" text-anchor="start" font-weight="normal" font-style="normal" textLength="25.9" lengthAdjust="spacingAndGlyphs" stroke="#d6d7da" stroke-width="0.13" >250000.00</text>
<line x1="978.7" y1="216.9" x2="981" y2="216.9" stroke="#404145"/>
<text x="982.7" y="203.1" font-size="6.6" fill="#d6d7da" text-anchor="start" font-weight="normal" font-style="normal" textLength="25.9" lengthAdjust="spacingAndGlyphs" stroke="#d6d7da" stroke-width="0.13" >275000.00</text>
<line x1="978.7" y1="200.6" x2="981" y2="200.6" stroke="#404145"/>
<text x="982.7" y="186.7" font-size="6.6" fill="#d6d7da" text-anchor="start" font-weight="normal" font-style="normal" textLength="25.9" lengthAdjust="spacingAndGlyphs" stroke="#d6d7da" stroke-width="0.13" >300000.00</text>
<line x1="978.7" y1="184.2" x2="981" y2="184.2" stroke="#404145"/>
<text x="982.7" y="170.4" font-size="6.6" fill="#d6d7da" text-anchor="start" font-weight="normal" font-style="normal" textLength="25.9" lengthAdjust="spacingAndGlyphs" stroke="#d6d7da" stroke-width="0.13" >325000.00</text>
<line x1="978.7" y1="167.9" x2="981" y2="167.9" stroke="#404145"/>
<text x="982.7" y="154.0" font-size="6.6" fill="#d6d7da" text-anchor="start" font-weight="normal" font-style="normal" textLength="25.9" lengthAdjust="spacingAndGlyphs" stroke="#d6d7da" stroke-width="0.13" >350000.00</text>
<line x1="978.7" y1="151.5" x2="981" y2="151.5" stroke="#404145"/>
<text x="982.7" y="137.7" font-size="6.6" fill="#d6d7da" text-anchor="start" font-weight="normal" font-style="normal" textLength="25.9" lengthAdjust="spacingAndGlyphs" stroke="#d6d7da" stroke-width="0.13" >375000.00</text>
<line x1="978.7" y1="135.2" x2="981" y2="135.2" stroke="#404145"/>
<text x="982.7" y="121.3" font-size="6.6" fill="#d6d7da" text-anchor="start" font-weight="normal" font-style="normal" textLength="25.9" lengthAdjust="spacingAndGlyphs" stroke="#d6d7da" stroke-width="0.13" >400000.00</text>
<line x1="978.7" y1="118.8" x2="981" y2="118.8" stroke="#404145"/>
<text x="982.7" y="105.0" font-size="6.6" fill="#d6d7da" text-anchor="start" font-weight="normal" font-style="normal" textLength="25.9" lengthAdjust="spacingAndGlyphs" stroke="#d6d7da" stroke-width="0.13" >425000.00</text>
<line x1="978.7" y1="102.5" x2="981" y2="102.5" stroke="#404145"/>
<text x="982.7" y="88.6" font-size="6.6" fill="#d6d7da" text-anchor="start" font-weight="normal" font-style="normal" textLength="25.9" lengthAdjust="spacingAndGlyphs" stroke="#d6d7da" stroke-width="0.13" >450000.00</text>
<line x1="978.7" y1="86.1" x2="981" y2="86.1" stroke="#404145"/>
<text x="982.7" y="72.3" font-size="6.6" fill="#d6d7da" text-anchor="start" font-weight="normal" font-style="normal" textLength="25.9" lengthAdjust="spacingAndGlyphs" stroke="#d6d7da" stroke-width="0.13" >475000.00</text>
<line x1="978.7" y1="69.8" x2="981" y2="69.8" stroke="#404145"/>
<text x="982.7" y="55.9" font-size="6.6" fill="#d6d7da" text-anchor="start" font-weight="normal" font-style="normal" textLength="25.9" lengthAdjust="spacingAndGlyphs" stroke="#d6d7da" stroke-width="0.13" >500000.00</text>
<line x1="978.7" y1="53.4" x2="981" y2="53.4" stroke="#404145"/>
<text x="982.7" y="39.5" font-size="6.6" fill="#d6d7da" text-anchor="start" font-weight="normal" font-style="normal" textLength="25.9" lengthAdjust="spacingAndGlyphs" stroke="#d6d7da" stroke-width="0.13" >525000.00</text>
<line x1="978.7" y1="37.0" x2="981" y2="37.0" stroke="#404145"/>
<text x="982.7" y="23.2" font-size="6.6" fill="#d6d7da" text-anchor="start" font-weight="normal" font-style="normal" textLength="25.9" lengthAdjust="spacingAndGlyphs" stroke="#d6d7da" stroke-width="0.13" >550000.00</text>
<line x1="978.7" y1="20.7" x2="981" y2="20.7" stroke="#404145"/>
<clipPath id="c1"><rect x="979" y="382.5" width="40" height="200"/></clipPath>
<text x="982.7" y="557.4" font-size="6.6" fill="#d6d7da" text-anchor="start" font-weight="normal" font-style="normal" textLength="17" lengthAdjust="spacingAndGlyphs" stroke="#d6d7da" stroke-width="0.13" clip-path="url(#c1)">0.0000</text>
<line x1="978.7" y1="554.9" x2="981" y2="554.9" stroke="#404145"/>
<text x="982.7" y="540.2" font-size="6.6" fill="#d6d7da" text-anchor="start" font-weight="normal" font-style="normal" textLength="28.8" lengthAdjust="spacingAndGlyphs" stroke="#d6d7da" stroke-width="0.13" clip-path="url(#c1)">50000.0000</text>
<line x1="978.7" y1="537.7" x2="981" y2="537.7" stroke="#404145"/>
<text x="982.7" y="522.9" font-size="6.6" fill="#d6d7da" text-anchor="start" font-weight="normal" font-style="normal" textLength="31.6" lengthAdjust="spacingAndGlyphs" stroke="#d6d7da" stroke-width="0.13" clip-path="url(#c1)">100000.0000</text>
<line x1="978.7" y1="520.4" x2="981" y2="520.4" stroke="#404145"/>
<text x="982.7" y="505.7" font-size="6.6" fill="#d6d7da" text-anchor="start" font-weight="normal" font-style="normal" textLength="31.6" lengthAdjust="spacingAndGlyphs" stroke="#d6d7da" stroke-width="0.13" clip-path="url(#c1)">150000.0000</text>
<line x1="978.7" y1="503.2" x2="981" y2="503.2" stroke="#404145"/>
<text x="982.7" y="488.4" font-size="6.6" fill="#d6d7da" text-anchor="start" font-weight="normal" font-style="normal" textLength="31.6" lengthAdjust="spacingAndGlyphs" stroke="#d6d7da" stroke-width="0.13" clip-path="url(#c1)">200000.0000</text>
<line x1="978.7" y1="485.9" x2="981" y2="485.9" stroke="#404145"/>
<text x="982.7" y="471.2" font-size="6.6" fill="#d6d7da" text-anchor="start" font-weight="normal" font-style="normal" textLength="31.6" lengthAdjust="spacingAndGlyphs" stroke="#d6d7da" stroke-width="0.13" clip-path="url(#c1)">250000.0000</text>
<line x1="978.7" y1="468.7" x2="981" y2="468.7" stroke="#404145"/>
<text x="982.7" y="454.0" font-size="6.6" fill="#d6d7da" text-anchor="start" font-weight="normal" font-style="normal" textLength="31.6" lengthAdjust="spacingAndGlyphs" stroke="#d6d7da" stroke-width="0.13" clip-path="url(#c1)">300000.0000</text>
<line x1="978.7" y1="451.5" x2="981" y2="451.5" stroke="#404145"/>
<text x="982.7" y="436.7" font-size="6.6" fill="#d6d7da" text-anchor="start" font-weight="normal" font-style="normal" textLength="31.6" lengthAdjust="spacingAndGlyphs" stroke="#d6d7da" stroke-width="0.13" clip-path="url(#c1)">350000.0000</text>
<line x1="978.7" y1="434.2" x2="981" y2="434.2" stroke="#404145"/>
<text x="982.7" y="419.5" font-size="6.6" fill="#d6d7da" text-anchor="start" font-weight="normal" font-style="normal" textLength="31.6" lengthAdjust="spacingAndGlyphs" stroke="#d6d7da" stroke-width="0.13" clip-path="url(#c1)">400000.0000</text>
<line x1="978.7" y1="417.0" x2="981" y2="417.0" stroke="#404145"/>
<text x="982.7" y="402.2" font-size="6.6" fill="#d6d7da" text-anchor="start" font-weight="normal" font-style="normal" textLength="31.6" lengthAdjust="spacingAndGlyphs" stroke="#d6d7da" stroke-width="0.13" clip-path="url(#c1)">450000.0000</text>
<line x1="978.7" y1="399.7" x2="981" y2="399.7" stroke="#404145"/>
<text x="982.7" y="385.0" font-size="6.6" fill="#d6d7da" text-anchor="start" font-weight="normal" font-style="normal" textLength="31.6" lengthAdjust="spacingAndGlyphs" stroke="#d6d7da" stroke-width="0.13" clip-path="url(#c1)">500000.0000</text>
<rect x="4.8" y="41.5" width="28.7" height="8.6" fill="#2f8fdf"/>
<text x="9.3" y="48" font-size="6.6" fill="#8cc3f3" text-anchor="start" font-weight="normal" font-style="normal" textLength="19.4" lengthAdjust="spacingAndGlyphs" stroke="#8cc3f3" stroke-width="0" >4776.40</text>
<rect x="33.5" y="56.6" width="34.5" height="8.8" fill="#efdb3d"/>
<text x="37.8" y="63.1" font-size="6.6" fill="#2a2810" text-anchor="start" font-weight="normal" font-style="normal" textLength="25.3" lengthAdjust="spacingAndGlyphs" stroke="#2a2810" stroke-width="0.03" >115383.57</text>
<rect x="979.2" y="222.2" width="33.2" height="7.1" fill="#f4f4f6"/>
<text x="982.7" y="227.8" font-size="6.6" fill="#222" text-anchor="start" font-weight="normal" font-style="normal" textLength="25.9" lengthAdjust="spacingAndGlyphs" stroke="#222" stroke-width="0.03" >236551.00</text>
<rect x="959.3" y="449.3" width="59.2" height="8.6" fill="#b5b6bb"/>
<rect x="959.3" y="457.9" width="59.2" height="8.6" fill="#efdb3d"/>
<text x="963.8" y="455.7" font-size="5.6" fill="#2a2a2e" text-anchor="start" font-weight="normal" font-style="normal" textLength="10.7" lengthAdjust="spacingAndGlyphs" stroke="#2a2a2e" stroke-width="0.03" >WMA</text>
<text x="963.8" y="464.3" font-size="5.6" fill="#2a2810" text-anchor="start" font-weight="normal" font-style="normal" textLength="10.7" lengthAdjust="spacingAndGlyphs" stroke="#2a2810" stroke-width="0.03" >WMA</text>
<line x1="978.7" y1="449.3" x2="978.7" y2="466.5" stroke="#55565a" stroke-width="1" opacity="0.6"/>
<line x1="977.6" y1="453.6" x2="980.4" y2="453.6" stroke="#3a3a3e" stroke-width="0.8"/>
<line x1="977.6" y1="462.2" x2="980.4" y2="462.2" stroke="#3a3810" stroke-width="0.8"/>
<text x="983" y="455.8" font-size="6.6" fill="#2a2a2e" text-anchor="start" font-weight="normal" font-style="normal" textLength="31" lengthAdjust="spacingAndGlyphs" stroke="#2a2a2e" stroke-width="0.03" >269523.3333</text>
<text x="983" y="464.4" font-size="6.6" fill="#2a2810" text-anchor="start" font-weight="normal" font-style="normal" textLength="31" lengthAdjust="spacingAndGlyphs" stroke="#2a2810" stroke-width="0.03" >269457.6889</text>
<rect x="979" y="482" width="39.5" height="8.4" fill="#cfdfd6"/>
<rect x="979" y="490.4" width="39.5" height="8.6" fill="#eee07a"/>
<text x="982.7" y="488.3" font-size="6.6" fill="#2a2a2e" text-anchor="start" font-weight="normal" font-style="normal" textLength="31.6" lengthAdjust="spacingAndGlyphs" stroke="#2a2a2e" stroke-width="0.03" >200000.0000</text>
<text x="982.7" y="496.9" font-size="6.6" fill="#2a2810" text-anchor="start" font-weight="normal" font-style="normal" textLength="31.6" lengthAdjust="spacingAndGlyphs" stroke="#2a2810" stroke-width="0.03" >200000.0000</text>
<rect x="69" y="6.5" width="300" height="28.5" fill="#141517" opacity="0.8"/>
<rect x="69" y="384" width="92" height="19" fill="#141517" opacity="0.8"/>
<text x="71.8" y="15.1" font-size="6.5" fill="#d6d7da" text-anchor="start" font-weight="normal" font-style="normal" textLength="166.6" lengthAdjust="spacingAndGlyphs" stroke="#d6d7da" stroke-width="0.13" >Ethereum: Failed Transaction Count (Total), 1D, CryptoQuant</text>
<text x="243.1" y="15.1" font-size="6.5" fill="#d6d7da" text-anchor="start" font-weight="normal" font-style="normal" textLength="27.7" lengthAdjust="spacingAndGlyphs" stroke="#d6d7da" stroke-width="0.13" >236551.00</text>
<text x="274.4" y="15.1" font-size="6.5" fill="#d6d7da" text-anchor="start" font-weight="normal" font-style="normal" textLength="56.2" lengthAdjust="spacingAndGlyphs" stroke="#d6d7da" stroke-width="0.13" >−85220.00 (−26.48%)</text>
<text x="71.8" y="23.9" font-size="6.5" fill="#d6d7da" text-anchor="start" font-weight="normal" font-style="normal" textLength="209.9" lengthAdjust="spacingAndGlyphs" stroke="#d6d7da" stroke-width="0.13" >BITCOIN: PRICE &amp; VOLUME - SPOT, ALL EXCHANGES, BTC-USD, CRYPTOQUANT</text>
<text x="286.4" y="23.9" font-size="6.5" fill="#efdb3d" text-anchor="start" font-weight="normal" font-style="normal" textLength="27.4" lengthAdjust="spacingAndGlyphs" stroke="#efdb3d" stroke-width="0.13" >115383.57</text>
<text x="317.2" y="23.9" font-size="6.5" fill="#efdb3d" text-anchor="start" font-weight="normal" font-style="normal" textLength="49.7" lengthAdjust="spacingAndGlyphs" stroke="#efdb3d" stroke-width="0.13" >−1520.58 (−1.30%)</text>
<text x="71.8" y="32.4" font-size="6.5" fill="#d6d7da" text-anchor="start" font-weight="normal" font-style="normal" textLength="217" lengthAdjust="spacingAndGlyphs" stroke="#d6d7da" stroke-width="0.13" >ETHEREUM: PRICE &amp; VOLUME - SPOT, ALL EXCHANGES, ETH-USD, CRYPTOQUANT</text>
<text x="293.1" y="32.4" font-size="6.5" fill="#2f8fdf" text-anchor="start" font-weight="normal" font-style="normal" textLength="21.9" lengthAdjust="spacingAndGlyphs" stroke="#2f8fdf" stroke-width="0.13" >4776.40</text>
<text x="318.8" y="32.4" font-size="6.5" fill="#2f8fdf" text-anchor="start" font-weight="normal" font-style="normal" textLength="42.6" lengthAdjust="spacingAndGlyphs" stroke="#2f8fdf" stroke-width="0.13" >−54.03 (−1.12%)</text>
<text x="72.4" y="392.2" font-size="6.5" fill="#d6d7da" text-anchor="start" font-weight="normal" font-style="normal" textLength="47.5" lengthAdjust="spacingAndGlyphs" stroke="#d6d7da" stroke-width="0.13" >WMA (9, close, 0)</text>
<text x="123.5" y="392.2" font-size="6.5" fill="#efdb3d" text-anchor="start" font-weight="normal" font-style="normal" textLength="35" lengthAdjust="spacingAndGlyphs" stroke="#efdb3d" stroke-width="0.13" >269457.6889</text>
<text x="72.4" y="400.7" font-size="6.5" fill="#d6d7da" text-anchor="start" font-weight="normal" font-style="normal" textLength="47.5" lengthAdjust="spacingAndGlyphs" stroke="#d6d7da" stroke-width="0.13" >WMA (3, close, 0)</text>
<text x="123.5" y="400.7" font-size="6.5" fill="#a9aab0" text-anchor="start" font-weight="normal" font-style="normal" textLength="35" lengthAdjust="spacingAndGlyphs" stroke="#a9aab0" stroke-width="0.13" >269523.3333</text>
<text x="379.3" y="37.5" font-size="14.2" fill="#efdb3d" text-anchor="start" font-weight="normal" font-style="italic" textLength="26.7" lengthAdjust="spacingAndGlyphs" stroke="#efdb3d" stroke-width="0.75" >BTC</text>
<text x="410.1" y="37.5" font-size="14.2" fill="#efdb3d" text-anchor="start" font-weight="normal" font-style="italic" textLength="33.4" lengthAdjust="spacingAndGlyphs" stroke="#efdb3d" stroke-width="0.75" >Price</text>
<text x="448.8" y="37.5" font-size="14.2" fill="#efdb3d" text-anchor="start" font-weight="normal" font-style="italic" textLength="23.7" lengthAdjust="spacingAndGlyphs" stroke="#efdb3d" stroke-width="0.75" >(log</text>
<text x="478.1" y="37.5" font-size="14.2" fill="#efdb3d" text-anchor="start" font-weight="normal" font-style="italic" textLength="40.1" lengthAdjust="spacingAndGlyphs" stroke="#efdb3d" stroke-width="0.75" >scale)</text>
<text x="370.6" y="171.7" font-size="14.2" fill="#2e89d6" text-anchor="start" font-weight="normal" font-style="italic" textLength="28.0" lengthAdjust="spacingAndGlyphs" stroke="#2e89d6" stroke-width="0.8" >ETH</text>
<text x="403.1" y="171.7" font-size="14.2" fill="#2e89d6" text-anchor="start" font-weight="normal" font-style="italic" textLength="32.3" lengthAdjust="spacingAndGlyphs" stroke="#2e89d6" stroke-width="0.8" >Price</text>
<text x="442" y="171.7" font-size="14.2" fill="#2e89d6" text-anchor="start" font-weight="normal" font-style="italic" textLength="23.9" lengthAdjust="spacingAndGlyphs" stroke="#2e89d6" stroke-width="0.8" >(log</text>
<text x="471.9" y="171.7" font-size="14.2" fill="#2e89d6" text-anchor="start" font-weight="normal" font-style="italic" textLength="37.9" lengthAdjust="spacingAndGlyphs" stroke="#2e89d6" stroke-width="0.8" >scale)</text>
<text x="771.8" y="399.8" font-size="14.3" fill="#9a9ba0" text-anchor="start" font-weight="normal" font-style="italic" textLength="27.9" lengthAdjust="spacingAndGlyphs" stroke="#9a9ba0" stroke-width="0.5" >ETH</text>
<text x="806.2" y="399.8" font-size="14.3" fill="#9a9ba0" text-anchor="start" font-weight="normal" font-style="italic" textLength="39.7" lengthAdjust="spacingAndGlyphs" stroke="#9a9ba0" stroke-width="0.5" >Failed</text>
<text x="852.4" y="399.8" font-size="14.3" fill="#9a9ba0" text-anchor="start" font-weight="normal" font-style="italic" textLength="15.0" lengthAdjust="spacingAndGlyphs" stroke="#9a9ba0" stroke-width="0.5" >Tx</text>
<text x="873.9" y="399.8" font-size="14.3" fill="#9a9ba0" text-anchor="start" font-weight="normal" font-style="italic" textLength="35.4" lengthAdjust="spacingAndGlyphs" stroke="#9a9ba0" stroke-width="0.5" >Count</text>
<text x="916.8" y="399.8" font-size="14.3" fill="#9a9ba0" text-anchor="start" font-weight="normal" font-style="italic" textLength="50.5" lengthAdjust="spacingAndGlyphs" stroke="#9a9ba0" stroke-width="0.5" >(3WMA)</text>
<text x="770.7" y="415.2" font-size="14.3" fill="#efdb3d" text-anchor="start" font-weight="normal" font-style="italic" textLength="28.0" lengthAdjust="spacingAndGlyphs" stroke="#efdb3d" stroke-width="0.65" >ETH</text>
<text x="804" y="415.2" font-size="14.3" fill="#efdb3d" text-anchor="start" font-weight="normal" font-style="italic" textLength="40.9" lengthAdjust="spacingAndGlyphs" stroke="#efdb3d" stroke-width="0.65" >Failed</text>
<text x="851.3" y="415.2" font-size="14.3" fill="#efdb3d" text-anchor="start" font-weight="normal" font-style="italic" textLength="15.5" lengthAdjust="spacingAndGlyphs" stroke="#efdb3d" stroke-width="0.65" >Tx</text>
<text x="872.8" y="415.2" font-size="14.3" fill="#efdb3d" text-anchor="start" font-weight="normal" font-style="italic" textLength="35.9" lengthAdjust="spacingAndGlyphs" stroke="#efdb3d" stroke-width="0.65" >Count</text>
<text x="915.1" y="415.2" font-size="14.3" fill="#efdb3d" text-anchor="start" font-weight="normal" font-style="italic" textLength="50.7" lengthAdjust="spacingAndGlyphs" stroke="#efdb3d" stroke-width="0.65" >(9WMA)</text>
<text x="880.5" y="479.7" font-size="12.6" fill="#efdb3d" text-anchor="start" font-weight="normal" font-style="italic" textLength="36.4" lengthAdjust="spacingAndGlyphs" stroke="#efdb3d" stroke-width="0.3" >above</text>
<text x="921.7" y="479.7" font-size="12.6" fill="#efdb3d" text-anchor="start" font-weight="normal" font-style="italic" textLength="50.4" lengthAdjust="spacingAndGlyphs" stroke="#efdb3d" stroke-width="0.3" >200,000</text>
<text x="145" y="580.9" font-size="5.7" fill="#bcbdc2" text-anchor="middle" font-weight="normal" font-style="normal" stroke="#bcbdc2" stroke-width="0.05" >Mar</text>
<text x="215.5" y="580.9" font-size="5.7" fill="#bcbdc2" text-anchor="middle" font-weight="normal" font-style="normal" stroke="#bcbdc2" stroke-width="0.05" >May</text>
<text x="286.5" y="580.9" font-size="5.7" fill="#bcbdc2" text-anchor="middle" font-weight="normal" font-style="normal" stroke="#bcbdc2" stroke-width="0.05" >Jul</text>
<text x="358.5" y="580.9" font-size="5.7" fill="#bcbdc2" text-anchor="middle" font-weight="normal" font-style="normal" stroke="#bcbdc2" stroke-width="0.05" >Sep</text>
<text x="429.8" y="580.9" font-size="5.7" fill="#bcbdc2" text-anchor="middle" font-weight="normal" font-style="normal" stroke="#bcbdc2" stroke-width="0.05" >Nov</text>
<text x="500.7" y="580.9" font-size="5.7" fill="#bcbdc2" text-anchor="middle" font-weight="bold" font-style="normal" stroke="#bcbdc2" stroke-width="0.05" >2025</text>
<text x="569.2" y="580.9" font-size="5.7" fill="#bcbdc2" text-anchor="middle" font-weight="normal" font-style="normal" stroke="#bcbdc2" stroke-width="0.05" >Mar</text>
<text x="640.5" y="580.9" font-size="5.7" fill="#bcbdc2" text-anchor="middle" font-weight="normal" font-style="normal" stroke="#bcbdc2" stroke-width="0.05" >May</text>
<text x="711.3" y="580.9" font-size="5.7" fill="#bcbdc2" text-anchor="middle" font-weight="normal" font-style="normal" stroke="#bcbdc2" stroke-width="0.05" >Jul</text>
<text x="783" y="580.9" font-size="5.7" fill="#bcbdc2" text-anchor="middle" font-weight="normal" font-style="normal" stroke="#bcbdc2" stroke-width="0.05" >Sep</text>
<text x="854" y="580.9" font-size="5.7" fill="#bcbdc2" text-anchor="middle" font-weight="normal" font-style="normal" stroke="#bcbdc2" stroke-width="0.05" >Nov</text>
<rect x="68" y="571.3" width="32" height="10.8" fill="#22b8d6"/>
<text x="71.5" y="579" font-size="5.8" fill="#14457c" text-anchor="start" font-weight="normal" font-style="normal" textLength="24.5" lengthAdjust="spacingAndGlyphs" stroke="#14457c" stroke-width="0.05" >13 Apr '23</text>
<rect x="15.4" y="573" width="7.2" height="7.4" rx="2.2" fill="#212227"/>
<text x="19" y="578.7" font-size="5" fill="#74757a" text-anchor="middle" font-weight="normal" font-style="normal" stroke="#74757a" stroke-width="0.05" >Y</text>
<rect x="46.4" y="573" width="7.2" height="7.4" rx="2.2" fill="#212227"/>
<text x="50" y="578.7" font-size="5" fill="#74757a" text-anchor="middle" font-weight="normal" font-style="normal" stroke="#74757a" stroke-width="0.05" >Z</text>
<rect x="995.0" y="573" width="7.2" height="7.4" rx="2.2" fill="#212227"/>
<text x="998.6" y="578.7" font-size="5" fill="#74757a" text-anchor="middle" font-weight="normal" font-style="normal" stroke="#74757a" stroke-width="0.05" >A</text>
<path d="M5.4 597.3 C4.4 596.6 4.6 594.2 6.2 593.2 C6.8 591.2 8 589.8 9.2 589.2 C10.6 588 12.8 588.2 13.8 589.6 C15 590.4 15.6 591.4 16.2 592.2 C18.4 592.6 19.4 594.6 18.8 596.2 C18.6 597 18 597.3 17.4 597.3 Z" fill="#3393ea"/>
<polyline points="6.8,595.2 10.3,591.7 14,595.2 15.9,593.3" fill="none" stroke="#18294a" stroke-width="0.9" stroke-linejoin="round" stroke-linecap="round"/>
<text x="20.2" y="596.1" font-size="8" fill="#d4d6da" text-anchor="start" font-weight="normal" font-style="normal" textLength="34.8" lengthAdjust="spacingAndGlyphs" stroke="#d4d6da" stroke-width="0.35" >TradingView</text>
<ellipse cx="989.6" cy="597.1" rx="1.6" ry="1.4" fill="#e8e9ec"/><ellipse cx="992" cy="597.1" rx="1.5" ry="1.4" fill="#e8e9ec"/>
<text x="995.2" y="598.8" font-size="5.2" fill="#d8dade" text-anchor="start" font-weight="normal" font-style="normal" textLength="25.8" lengthAdjust="spacingAndGlyphs" stroke="#d8dade" stroke-width="0.2" >CryptoQuant</text>
</svg></body></html>
